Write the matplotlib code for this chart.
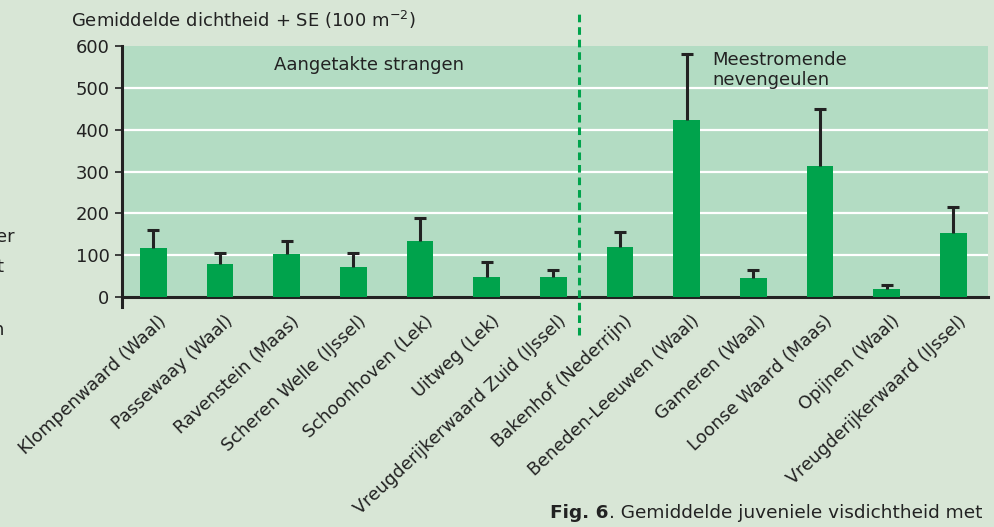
import matplotlib.pyplot as plt
import matplotlib.transforms as mtransforms
import numpy as np

# data
sites = ["Klompenwaard (Waal)", "Passewaay (Waal)", "Ravenstein (Maas)",
         "Scheren Welle (IJssel)", "Schoonhoven (Lek)", "Uitweg (Lek)",
         "Vreugderijkerwaard Zuid (IJssel)", "Bakenhof (Nederrijn)",
         "Beneden-Leeuwen (Waal)", "Gameren (Waal)", "Loonse Waard (Maas)",
         "Opijnen (Waal)", "Vreugderijkerwaard (IJssel)"]
mean_density = [116, 78, 104, 71, 133, 48, 48, 120, 423, 45, 313, 19, 153]
upper_se = [160, 106, 135, 106, 190, 84, 65, 155, 582, 65, 449, 29, 216]
yticks = [0, 100, 200, 300, 400, 500, 600]

BG = "#d8e6d6"
PANEL = "#b3dcc3"
BAR = "#00a34c"
INK = "#222222"

plt.rcParams['font.family'] = ["DejaVu Sans"]

fig = plt.figure(figsize=(9.95, 5.27), dpi=100, facecolor=BG)
ax = fig.add_axes([0.1226, 0.4364, 0.8704, 0.4763])
ax.set_facecolor(PANEL)

x = np.arange(len(sites))
ax.bar(x, mean_density, width=0.4, color=BAR, zorder=3)
# upper standard error only
ax.vlines(x, mean_density, upper_se, color=INK, lw=2.2, zorder=4)
ax.hlines(upper_se, x - 0.09, x + 0.09, color=INK, lw=2.2, zorder=4)

ax.set_xlim(-0.47, 12.52)
ax.set_ylim(0, 600)
ax.set_yticks(yticks)
ax.set_yticklabels([str(v) for v in yticks], fontsize=13, color=INK)
for v in yticks[1:-1]:
    ax.axhline(v, color="white", lw=1.6, zorder=1)

ax.set_xticks(x)
ax.set_xticklabels(sites, rotation=43, ha='right', va='top',
                   rotation_mode='anchor', fontsize=12.7, color=INK)
ax.tick_params(axis='x', length=0, pad=11)
ax.tick_params(axis='y', length=5, width=1.2, color=INK, pad=4)
shift = mtransforms.ScaledTranslation(0.04, 0, fig.dpi_scale_trans)
for lab in ax.get_xticklabels():
    lab.set_transform(lab.get_transform() + shift)

for side in ['top', 'right']:
    ax.spines[side].set_visible(False)
ax.spines['bottom'].set_linewidth(2.2)
ax.spines['bottom'].set_color(INK)
ax.spines['left'].set_linewidth(2.2)
ax.spines['left'].set_color(INK)
ax.spines['left'].set_bounds(-25, 600)

# separator between the two groups
ax.plot([6.39, 6.39], [-91, 681], ls=(0, (2.5, 1.6)), color=BAR, lw=2.2,
        clip_on=False, zorder=5)

ax.text(3.23, 555, "Aangetakte strangen", fontsize=13, ha='center',
        va='center', color=INK)
ax.text(8.38, 588, "Meestromende\nnevengeulen", fontsize=13, ha='left',
        va='top', color=INK, linespacing=1.15)

fig.text(0.0714, 0.962, "Gemiddelde dichtheid + SE (100 m$^{\\mathregular{-2}}$)",
         fontsize=13, ha='left', va='center', color=INK)

# clipped caption fragments at the figure edges
fig.text(-0.004, 0.551, "er", fontsize=13, ha='left', va='center', color=INK)
fig.text(-0.004, 0.493, "t", fontsize=13, ha='left', va='center', color=INK)
fig.text(-0.008, 0.373, "n", fontsize=13, ha='left', va='center', color=INK)
cap = fig.text(0.553, 0.018, "Fig. 6", fontsize=13.3, fontweight='bold',
               ha='left', va='baseline', color=INK)
rest = fig.text(0.553, 0.018, ". Gemiddelde juveniele visdichtheid met",
                fontsize=13.3, ha='left', va='baseline', color=INK)

fig.canvas.draw()
bb = cap.get_window_extent()
rest.set_position((bb.x1 / fig.bbox.width, 0.018))

fig.savefig("out.png", dpi=100, facecolor=BG)
